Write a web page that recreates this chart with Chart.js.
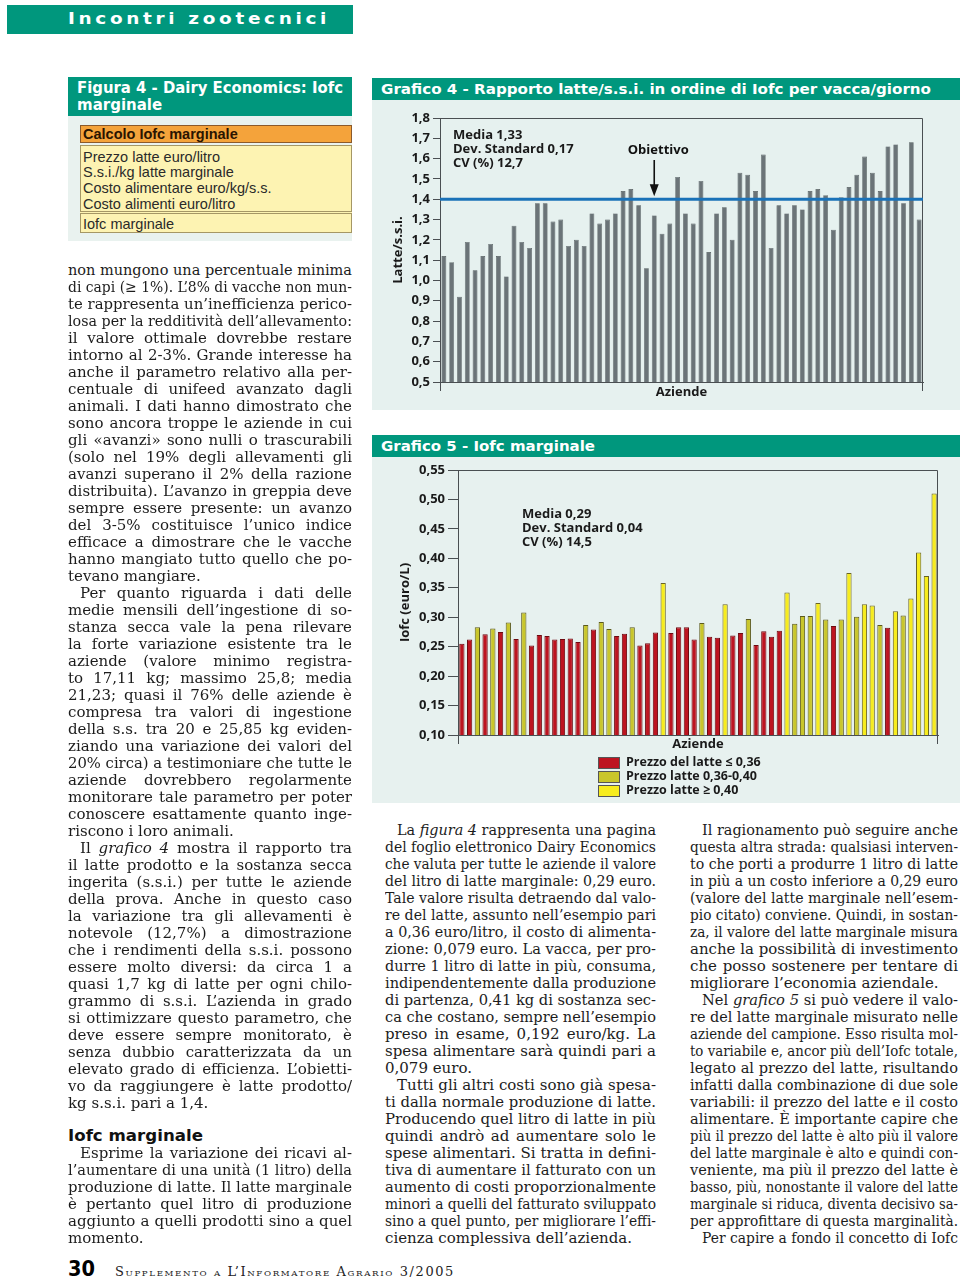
<!DOCTYPE html>
<html lang="it"><head><meta charset="utf-8">
<script src="https://cdn.jsdelivr.net/npm/chart.js@4.4.1/dist/chart.umd.min.js"></script>
<style>
html,body{margin:0;padding:0;background:#fff;}
body{width:960px;height:1279px;position:relative;overflow:hidden;font-family:'DejaVu Serif',serif;color:#1c1c1c;}
.abs{position:absolute;}
.teal{background:#00977d;}
.hdr{position:absolute;color:#fff;font-family:'DejaVu Sans',sans-serif;font-weight:bold;white-space:nowrap;}
.hdr span,.fit span{display:inline-block;transform-origin:0 50%;}
.ln{position:absolute;white-space:nowrap;font-size:15px;line-height:17px;height:17px;}
.ln span{display:inline-block;transform-origin:0 50%;}
.ss{position:absolute;font-family:'Liberation Sans',Arial,sans-serif;font-size:14.5px;color:#2a2a2a;white-space:nowrap;line-height:16px;}
.leg{position:absolute;left:598px;width:20px;height:10px;border:1px solid #555;}
.legt{position:absolute;left:626px;font-family:'Open Sans','Noto Sans',sans-serif;font-weight:bold;font-size:12.5px;line-height:14px;color:#1a1a1a;white-space:nowrap;}
</style></head><body>

<!-- page header -->
<div class="abs teal" style="left:7px;top:5px;width:346px;height:29px"></div>
<div class="hdr" data-fit="262" style="left:68px;top:5px;line-height:29px;font-size:15px;letter-spacing:3px"><span>Incontri zootecnici</span></div>

<!-- Figura 4 -->
<div class="abs teal" style="left:68px;top:77px;width:284px;height:39px"></div>
<div class="hdr" data-fit="266" style="left:77px;top:79px;line-height:18px;font-size:15px"><span>Figura 4 - Dairy Economics: Iofc</span></div>
<div class="hdr" style="left:77px;top:96px;line-height:18px;font-size:15px"><span>marginale</span></div>
<div class="abs" style="left:68px;top:116px;width:284px;height:125px;background:#e9f2ef"></div>
<div class="abs" style="left:80px;top:125px;width:272px;height:18px;background:#f4a33b;border:1px solid #8b5a2b;box-sizing:border-box"></div>
<div class="ss" style="left:83px;top:126px;font-weight:bold;color:#2a1400">Calcolo Iofc marginale</div>
<div class="abs" style="left:80px;top:145px;width:272px;height:88px;background:#fdf3b2;border:1px solid #a59765;box-sizing:border-box"></div>
<div class="abs" style="left:80px;top:211px;width:272px;height:3px;border-top:1px solid #a59765;border-bottom:1px solid #a59765;box-sizing:border-box;background:#fdf3b2"></div>
<div class="ss" style="left:83px;top:149px">Prezzo latte euro/litro</div>
<div class="ss" style="left:83px;top:164px">S.s.i./kg latte marginale</div>
<div class="ss" style="left:83px;top:180px">Costo alimentare euro/kg/s.s.</div>
<div class="ss" style="left:83px;top:196px">Costo alimenti euro/litro</div>
<div class="ss" style="left:83px;top:216px">Iofc marginale</div>

<!-- Grafico 4 -->
<div class="abs teal" style="left:372px;top:78px;width:588px;height:22px"></div>
<div class="hdr" data-fit="550" style="left:381px;top:78px;line-height:22px;font-size:14.5px"><span>Grafico 4 - Rapporto latte/s.s.i. in ordine di Iofc per vacca/giorno</span></div>
<div class="abs" style="left:372px;top:100px;width:588px;height:310px;background:#e6f1ef"></div>
<canvas id="c4" class="abs" width="588" height="310" style="left:372px;top:100px"></canvas>

<!-- Grafico 5 -->
<div class="abs teal" style="left:372px;top:435px;width:588px;height:22px"></div>
<div class="hdr" data-fit="214" style="left:381px;top:435px;line-height:22px;font-size:14.5px"><span>Grafico 5 - Iofc marginale</span></div>
<div class="abs" style="left:372px;top:457px;width:588px;height:346px;background:#e7f1ef"></div>
<canvas id="c5" class="abs" width="588" height="297" style="left:372px;top:457px"></canvas>
<div id="legend5"></div>

<!-- heading -->
<div class="hdr" data-fit="135" style="left:68px;top:1127px;line-height:18px;font-size:15px;color:#111"><span>Iofc marginale</span></div>

<!-- footer -->
<div class="hdr" data-fit="27" style="left:68px;top:1257px;line-height:24px;font-size:22px;color:#000;font-weight:900"><span>30</span></div>
<div class="abs fit" data-fit="340" style="left:115px;top:1264px;line-height:16px;font-size:12px;font-variant:small-caps;letter-spacing:1.5px;white-space:nowrap;color:#222"><span>Supplemento a L’Informatore Agrario 3/2005</span></div>

<script>
// ---------- DATA ----------
const aziende = ['1','2','3','4','5','6','7','8','9','10','11','12','13','14','15','16','17','18','19','20',
  '21','22','23','24','25','26','27','28','29','30','31','32','33','34','35','36','37','38','39','40',
  '41','42','43','44','45','46','47','48','49','50','51','52','53','54','55','56','57','58','59','60','61','62'];

const latteSsi = [1.12, 1.09, 0.92, 1.19, 1.05, 1.12, 1.18, 1.12, 1.02, 1.27,
  1.19, 1.16, 1.38, 1.38, 1.29, 1.30, 1.17, 1.20, 1.17, 1.33,
  1.28, 1.30, 1.33, 1.44, 1.45, 1.37, 1.06, 1.32, 1.23, 1.28,
  1.51, 1.33, 1.28, 1.49, 1.14, 1.33, 1.36, 1.20, 1.53, 1.52,
  1.44, 1.62, 1.16, 1.37, 1.33, 1.37, 1.35, 1.44, 1.45, 1.42,
  1.25, 1.41, 1.46, 1.52, 1.61, 1.53, 1.44, 1.66, 1.67, 1.38,
  1.68, 1.30];
const obiettivo = 1.4;
const obiettivoIndex = 27;
const stats4 = ['Media 1,33', 'Dev. Standard 0,17', 'CV (%) 12,7'];
const yTicks4 = {min: 0.5, max: 1.8, step: 0.1};

const iofcMarginale = [0.255, 0.262, 0.283, 0.271, 0.281, 0.275, 0.291, 0.263, 0.308, 0.252,
  0.270, 0.268, 0.262, 0.263, 0.264, 0.258, 0.287, 0.279, 0.292, 0.280,
  0.268, 0.272, 0.283, 0.252, 0.256, 0.274, 0.358, 0.273, 0.283, 0.283,
  0.262, 0.290, 0.267, 0.265, 0.322, 0.269, 0.273, 0.297, 0.253, 0.276,
  0.267, 0.277, 0.342, 0.289, 0.302, 0.302, 0.324, 0.296, 0.285, 0.296,
  0.375, 0.301, 0.322, 0.320, 0.287, 0.282, 0.310, 0.303, 0.332, 0.410,
  0.370, 0.510];
// fascia di prezzo del latte: 0 = ≤0,36 ; 1 = 0,36-0,40 ; 2 = ≥0,40
const fasciaPrezzo = [0,0,1,0,1,0,1,0,1,0,
  0,0,0,0,0,0,1,0,1,1,
  0,0,1,0,0,0,2,0,0,0,
  0,1,0,0,2,0,0,1,0,0,
  0,0,2,1,1,1,2,1,0,1,
  2,1,2,2,1,0,2,1,2,2,
  2,2];
const fasceLabels = ['Prezzo del latte ≤ 0,36', 'Prezzo latte 0,36-0,40', 'Prezzo latte ≥ 0,40'];
const fasceColors = ['#bd1420', '#c9c62b', '#f7ec1e'];
const fasceBorders = ['#6e0a10', '#5c5a1c', '#6a6422'];
const stats5 = ['Media 0,29', 'Dev. Standard 0,04', 'CV (%) 14,5'];
const yTicks5 = {min: 0.10, max: 0.55, step: 0.05};

// ---------- TEXT ----------
const colLeftA = [
"non mungono una percentuale minima",
"di capi (≥ 1%). L’8% di vacche non mun-",
"te rappresenta un’inefficienza perico-",
"losa per la redditività dell’allevamento:",
"il valore ottimale dovrebbe restare",
"intorno al 2-3%. Grande interesse ha",
"anche il parametro relativo alla per-",
"centuale di unifeed avanzato dagli",
"animali. I dati hanno dimostrato che",
"sono ancora troppe le aziende in cui",
"gli «avanzi» sono nulli o trascurabili",
"(solo nel 19% degli allevamenti gli",
"avanzi superano il 2% della razione",
"distribuita). L’avanzo in greppia deve",
"sempre essere presente: un avanzo",
"del 3-5% costituisce l’unico indice",
"efficace a dimostrare che le vacche",
"hanno mangiato tutto quello che po-",
"tevano mangiare.$",
">Per quanto riguarda i dati delle",
"medie mensili dell’ingestione di so-",
"stanza secca vale la pena rilevare",
"la forte variazione esistente tra le",
"aziende (valore minimo registra-",
"to 17,11 kg; massimo 25,8; media",
"21,23; quasi il 76% delle aziende è",
"compresa tra valori di ingestione",
"della s.s. tra 20 e 25,85 kg eviden-",
"ziando una variazione dei valori del",
"20% circa) a testimoniare che tutte le",
"aziende dovrebbero regolarmente",
"monitorare tale parametro per poter",
"conoscere esattamente quanto inge-",
"riscono i loro animali.$",
">Il <i>grafico 4</i> mostra il rapporto tra",
"il latte prodotto e la sostanza secca",
"ingerita (s.s.i.) per tutte le aziende",
"della prova. Anche in questo caso",
"la variazione tra gli allevamenti è",
"notevole (12,7%) a dimostrazione",
"che i rendimenti della s.s.i. possono",
"essere molto diversi: da circa 1 a",
"quasi 1,7 kg di latte per ogni chilo-",
"grammo di s.s.i. L’azienda in grado",
"si ottimizzare questo parametro, che",
"deve essere sempre monitorato, è",
"senza dubbio caratterizzata da un",
"elevato grado di efficienza. L’obietti-",
"vo da raggiungere è latte prodotto/",
"kg s.s.i. pari a 1,4.$"];
const colLeftB = [
">Esprime la variazione dei ricavi al-",
"l’aumentare di una unità (1 litro) della",
"produzione di latte. Il latte marginale",
"è pertanto quel litro di produzione",
"aggiunto a quelli prodotti sino a quel",
"momento.$"];
const colMid = [
">La <i>figura 4</i> rappresenta una pagina",
"del foglio elettronico Dairy Economics",
"che valuta per tutte le aziende il valore",
"del litro di latte marginale: 0,29 euro.",
"Tale valore risulta detraendo dal valo-",
"re del latte, assunto nell’esempio pari",
"a 0,36 euro/litro, il costo di alimenta-",
"zione: 0,079 euro. La vacca, per pro-",
"durre 1 litro di latte in più, consuma,",
"indipendentemente dalla produzione",
"di partenza, 0,41 kg di sostanza sec-",
"ca che costano, sempre nell’esempio",
"preso in esame, 0,192 euro/kg. La",
"spesa alimentare sarà quindi pari a",
"0,079 euro.$",
">Tutti gli altri costi sono già spesa-",
"ti dalla normale produzione di latte.",
"Producendo quel litro di latte in più",
"quindi andrò ad aumentare solo le",
"spese alimentari. Si tratta in defini-",
"tiva di aumentare il fatturato con un",
"aumento di costi proporzionalmente",
"minori a quelli del fatturato sviluppato",
"sino a quel punto, per migliorare l’effi-",
"cienza complessiva dell’azienda.$"];
const colRight = [
">Il ragionamento può seguire anche",
"questa altra strada: qualsiasi interven-",
"to che porti a produrre 1 litro di latte",
"in più a un costo inferiore a 0,29 euro",
"(valore del latte marginale nell’esem-",
"pio citato) conviene. Quindi, in sostan-",
"za, il valore del latte marginale misura",
"anche la possibilità di investimento",
"che posso sostenere per tentare di",
"migliorare l’economia aziendale.$",
">Nel <i>grafico 5</i> si può vedere il valo-",
"re del latte marginale misurato nelle",
"aziende del campione. Esso risulta mol-",
"to variabile e, ancor più dell’Iofc totale,",
"legato al prezzo del latte, risultando",
"infatti dalla combinazione di due sole",
"variabili: il prezzo del latte e il costo",
"alimentare. È importante capire che",
"più il prezzo del latte è alto più il valore",
"del latte marginale è alto e quindi con-",
"veniente, ma più il prezzo del latte è",
"basso, più, nonostante il valore del latte",
"marginale si riduca, diventa decisivo sa-",
"per approfittare di questa marginalità.$",
">Per capire a fondo il concetto di Iofc"];

function placeColumn(lines, x, y, w) {
  lines.forEach((raw, i) => {
    let s = raw, indent = 0, last = false;
    if (s.startsWith('>')) { indent = 12; s = s.slice(1); }
    if (s.endsWith('$')) { last = true; s = s.slice(0, -1); }
    const d = document.createElement('div');
    d.className = 'ln';
    d.style.left = (x + indent) + 'px';
    d.style.top = (y + i * 17) + 'px';
    const sp = document.createElement('span');
    sp.innerHTML = s;
    d.appendChild(sp);
    document.body.appendChild(d);
    const avail = w - indent;
    const nat = sp.getBoundingClientRect().width;
    if (nat > avail) {
      sp.style.transform = 'scaleX(' + (avail / nat) + ')';
    } else if (!last) {
      const n = (sp.textContent.match(/ /g) || []).length;
      if (n) sp.style.wordSpacing = ((avail - nat) / n) + 'px';
    }
  });
}
placeColumn(colLeftA, 68, 262, 284);
placeColumn(colLeftB, 68, 1145, 284);
placeColumn(colMid, 385, 822, 271);
placeColumn(colRight, 690, 822, 268);

document.querySelectorAll('[data-fit]').forEach(el => {
  const sp = el.querySelector('span');
  const target = parseFloat(el.dataset.fit);
  const nat = sp.getBoundingClientRect().width;
  sp.style.transform = 'scaleX(' + (target / nat) + ')';
});

// legend 5
const leg = document.getElementById('legend5');
fasceLabels.forEach((lab, i) => {
  const b = document.createElement('div');
  b.className = 'leg';
  b.style.top = (757 + i * 14) + 'px';
  b.style.background = fasceColors[i];
  leg.appendChild(b);
  const t = document.createElement('div');
  t.className = 'legt';
  t.style.top = (755 + i * 14) + 'px';
  t.textContent = lab;
  leg.appendChild(t);
});

// ---------- CHARTS ----------
Chart.defaults.font.family = "'Open Sans','Noto Sans',sans-serif";
Chart.defaults.color = '#1a1a1a';
const axisCol = '#4a4f52';
const tickFont = {size: 13, weight: 'bold'};
const titleFont = {size: 13, weight: 'bold'};

function frame(ctx, a) {
  ctx.strokeStyle = axisCol; ctx.lineWidth = 1;
  ctx.beginPath();
  ctx.moveTo(a.left + 0.5, a.bottom + 9); ctx.lineTo(a.left + 0.5, a.top + 0.5);
  ctx.lineTo(a.right - 0.5, a.top + 0.5); ctx.lineTo(a.right - 0.5, a.bottom + 9);
  ctx.stroke();
}
function statsText(ctx, lines, x, y) {
  ctx.fillStyle = '#1a1a1a';
  ctx.font = "bold 13px 'Open Sans','Noto Sans',sans-serif";
  ctx.textAlign = 'left'; ctx.textBaseline = 'middle';
  lines.forEach((l, i) => ctx.fillText(l, x, y + i * 14));
}

const g4Plugin = {
  id: 'g4extra',
  afterDatasetsDraw(chart) {
    const {ctx, chartArea: a, scales: {x, y}} = chart;
    ctx.save();
    frame(ctx, a);
    const yt = y.getPixelForValue(obiettivo);
    ctx.strokeStyle = '#1a72b8'; ctx.lineWidth = 3;
    ctx.beginPath(); ctx.moveTo(a.left, yt); ctx.lineTo(a.right, yt); ctx.stroke();
    const xa = x.getPixelForValue(obiettivoIndex);
    ctx.strokeStyle = '#111'; ctx.fillStyle = '#111'; ctx.lineWidth = 1.6;
    ctx.beginPath(); ctx.moveTo(xa, a.top + 42); ctx.lineTo(xa, yt - 12); ctx.stroke();
    ctx.beginPath(); ctx.moveTo(xa - 4.5, yt - 15); ctx.lineTo(xa + 4.5, yt - 15); ctx.lineTo(xa, yt - 3); ctx.closePath(); ctx.fill();
    ctx.font = "bold 13px 'Open Sans','Noto Sans',sans-serif";
    ctx.textAlign = 'center'; ctx.textBaseline = 'middle';
    ctx.fillText('Obiettivo', xa + 4, a.top + 32);
    statsText(ctx, stats4, a.left + 13, a.top + 17);
    ctx.restore();
  }
};

new Chart(document.getElementById('c4'), {
  type: 'bar',
  data: {labels: aziende, datasets: [{
    label: 'Latte/s.s.i.', data: latteSsi,
    backgroundColor: '#6b7478', borderColor: '#4d5558', borderWidth: 0.6,
    barPercentage: 0.62, categoryPercentage: 1
  }]},
  options: {
    responsive: false, animation: false, devicePixelRatio: 1,
    layout: {padding: {top: 18, right: 37, left: 0, bottom: 0}},
    plugins: {legend: {display: false}, tooltip: {enabled: false}},
    scales: {
      x: {
        ticks: {display: false}, grid: {display: false},
        border: {display: true, color: axisCol, width: 1},
        title: {display: true, text: 'Aziende', font: titleFont, color: '#1a1a1a', padding: {top: 0, bottom: 10}},
        afterFit(s) { s.height = 28; }
      },
      y: {
        min: yTicks4.min, max: yTicks4.max,
        ticks: {stepSize: yTicks4.step, font: tickFont, color: '#1a1a1a', padding: 3,
          callback: v => v.toFixed(1).replace('.', ',')},
        grid: {drawOnChartArea: false, drawTicks: true, tickLength: 7, color: axisCol},
        border: {display: true, color: axisCol, width: 1},
        title: {display: true, text: 'Latte/s.s.i.', font: titleFont, color: '#1a1a1a', padding: {top: 18, bottom: 0}},
        afterFit(s) { s.width = 68; }
      }
    }
  },
  plugins: [g4Plugin]
});

const g5Plugin = {
  id: 'g5extra',
  afterDatasetsDraw(chart) {
    const {ctx, chartArea: a} = chart;
    ctx.save();
    frame(ctx, a);
    statsText(ctx, stats5, a.left + 64, a.top + 44);
    ctx.restore();
  }
};

const datasets5 = fasceLabels.map((lab, g) => ({
  label: lab,
  data: iofcMarginale.map((v, i) => fasciaPrezzo[i] === g ? v : null),
  backgroundColor: fasceColors[g], borderColor: fasceBorders[g], borderWidth: 1,
  barPercentage: 0.68, categoryPercentage: 1, grouped: false
}));

new Chart(document.getElementById('c5'), {
  type: 'bar',
  data: {labels: aziende, datasets: datasets5},
  options: {
    responsive: false, animation: false, devicePixelRatio: 1,
    layout: {padding: {top: 13, right: 22, left: 0, bottom: 0}},
    plugins: {legend: {display: false}, tooltip: {enabled: false}},
    scales: {
      x: {
        ticks: {display: false}, grid: {display: false},
        border: {display: true, color: axisCol, width: 1},
        title: {display: true, text: 'Aziende', font: titleFont, color: '#1a1a1a', padding: {top: 0, bottom: 2}},
        afterFit(s) { s.height = 19; }
      },
      y: {
        min: yTicks5.min, max: yTicks5.max,
        ticks: {stepSize: yTicks5.step, font: tickFont, color: '#1a1a1a', padding: 3,
          callback: v => v.toFixed(2).replace('.', ',')},
        grid: {drawOnChartArea: false, drawTicks: true, tickLength: 10, color: axisCol},
        border: {display: true, color: axisCol, width: 1},
        title: {display: true, text: 'Iofc (euro/L)', font: titleFont, color: '#1a1a1a', padding: {top: 25, bottom: 0}},
        afterFit(s) { s.width = 86; }
      }
    }
  },
  plugins: [g5Plugin]
});
</script>
</body></html>
